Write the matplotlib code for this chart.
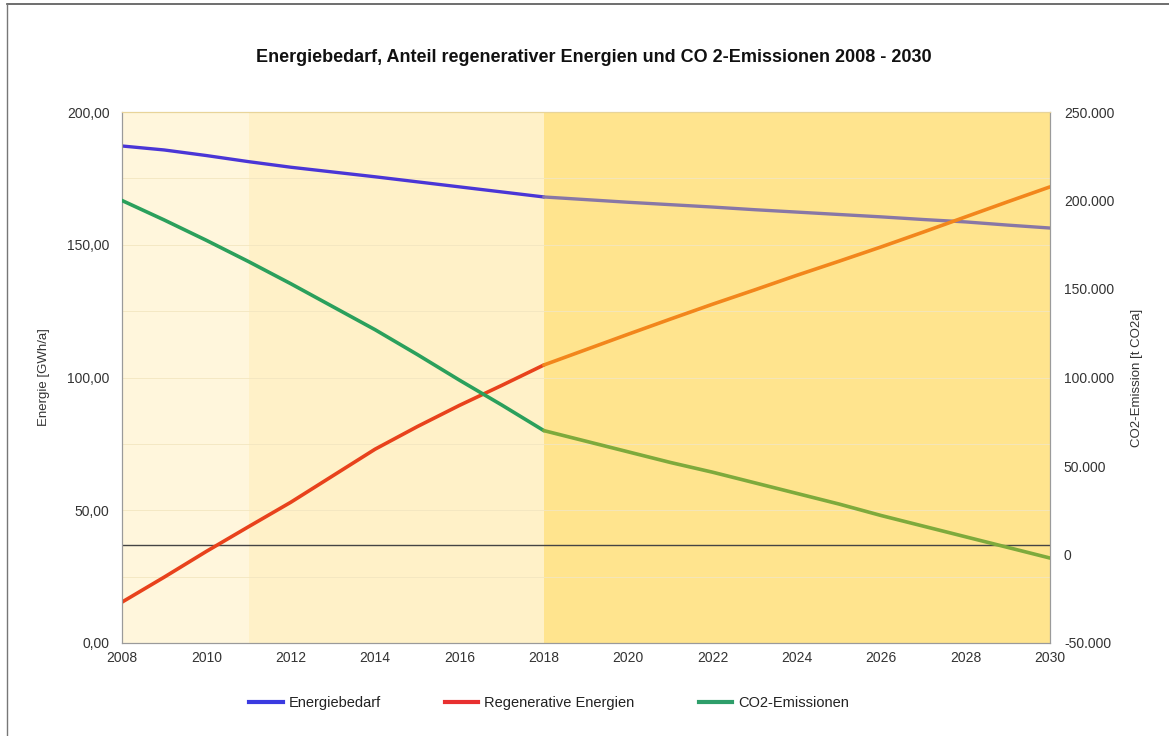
import matplotlib
matplotlib.use("Agg")
import matplotlib.pyplot as plt
from matplotlib.ticker import FuncFormatter, MultipleLocator
from matplotlib.lines import Line2D

plt.rcParams['font.family'] = ['Liberation Sans', 'DejaVu Sans']

years = list(range(2008, 2031))
energiebedarf = [187.2, 185.7, 183.6, 181.3, 179.2, 177.4, 175.6, 173.7, 171.8, 169.9, 168.0,
                 167.0, 166.0, 165.1, 164.2, 163.2, 162.3, 161.4, 160.5, 159.5, 158.6, 157.4, 156.3]
regenerativ = [15.4, 24.8, 34.5, 43.8, 53.0, 63.0, 73.0, 81.5, 89.5, 97.0, 104.7,
               110.5, 116.3, 122.0, 127.6, 133.0, 138.5, 143.8, 149.2, 154.8, 160.5, 166.2, 171.8]
co2 = [200000, 189000, 177500, 165500, 153000, 140000, 127000, 113000, 98500, 84500, 70000,
       64000, 58000, 52000, 46500, 40500, 34500, 28500, 22000, 16000, 10000, 4000, -2000]
referenz_linie = 37.0
phasen = [(2008, 2011, '#FFF6DC'), (2011, 2018, '#FFF1C8'), (2018, 2030, '#FFE48E')]
split_year = 2018

fig = plt.figure(figsize=(11.69, 7.36), dpi=100)
ax = fig.add_axes([122/1169, (736-643)/736, (1050-122)/1169, (643-112)/736])
ax2 = ax.twinx()

for a, b, c in phasen:
    ax.axvspan(a, b, color=c, lw=0, zorder=0)

for v in range(25, 200, 25):
    ax.axhline(v, color='#F3E6C0', lw=0.6, zorder=0.5)

ax.axhline(referenz_linie, color='#444444', lw=1.0, zorder=2)

i = years.index(split_year)
ax.plot(years[:i+1], energiebedarf[:i+1], color='#4A36D6', lw=2.4, zorder=3, solid_capstyle='round')
ax.plot(years[i:], energiebedarf[i:], color='#8877A6', lw=2.4, zorder=3, solid_capstyle='round')
ax.plot(years[:i+1], regenerativ[:i+1], color='#E8421C', lw=2.6, zorder=3, solid_capstyle='round')
ax.plot(years[i:], regenerativ[i:], color='#F2861C', lw=2.6, zorder=3, solid_capstyle='round')
ax2.plot(years[:i+1], co2[:i+1], color='#2BA05C', lw=2.6, zorder=3, solid_capstyle='round')
ax2.plot(years[i:], co2[i:], color='#7EAA3C', lw=2.6, zorder=3, solid_capstyle='round')

ax.set_xlim(2008, 2030)
ax.set_ylim(0, 200)
ax2.set_ylim(-50000, 250000)
ax.xaxis.set_major_locator(MultipleLocator(2))
ax.yaxis.set_major_locator(MultipleLocator(50))
ax2.yaxis.set_major_locator(MultipleLocator(50000))
ax.yaxis.set_major_formatter(FuncFormatter(lambda v, p: f"{v:.2f}".replace('.', ',')))
ax2.yaxis.set_major_formatter(FuncFormatter(lambda v, p: f"{int(v):,}".replace(',', '.')))

for a in (ax, ax2):
    for s in a.spines.values():
        s.set_color('#9A9A9A')
    a.spines['top'].set_color('#E8D49A')
    a.tick_params(colors='#333333', labelsize=10, length=0, pad=9)
ax2.tick_params(axis='y', pad=10)
ax.tick_params(axis='x', pad=6)

ax.set_ylabel('Energie [GWh/a]', fontsize=9.5, color='#333333', labelpad=12)
ax2.set_ylabel('CO2-Emission [t CO2a]', fontsize=9.5, color='#333333', labelpad=12)
ax2.set_zorder(ax.get_zorder() + 1)
ax2.patch.set_visible(False)

fig.text(594/1169, 1 - 57/736, 'Energiebedarf, Anteil regenerativer Energien und CO 2-Emissionen 2008 - 2030',
         ha='center', va='center', fontsize=13, fontweight='bold', color='#111111')

handles = [Line2D([], [], color='#3A3AE0', lw=3),
           Line2D([], [], color='#E83030', lw=3),
           Line2D([], [], color='#2E9E6A', lw=3)]
fig.legend(handles, ['Energiebedarf', 'Regenerative Energien', 'CO2-Emissionen'],
           loc='center', bbox_to_anchor=(549/1169, 1 - 703/736), ncol=3, frameon=False,
           fontsize=10.5, handlelength=2.3, columnspacing=4.4, handletextpad=0.4,
           labelcolor='#222222')

fig.add_artist(Line2D([7/1169, 1], [1 - 4/736, 1 - 4/736], color='#555555', lw=1.2))
fig.add_artist(Line2D([7/1169, 7/1169], [0, 1 - 4/736], color='#777777', lw=1.0))

fig.savefig('out.png', dpi=100)
